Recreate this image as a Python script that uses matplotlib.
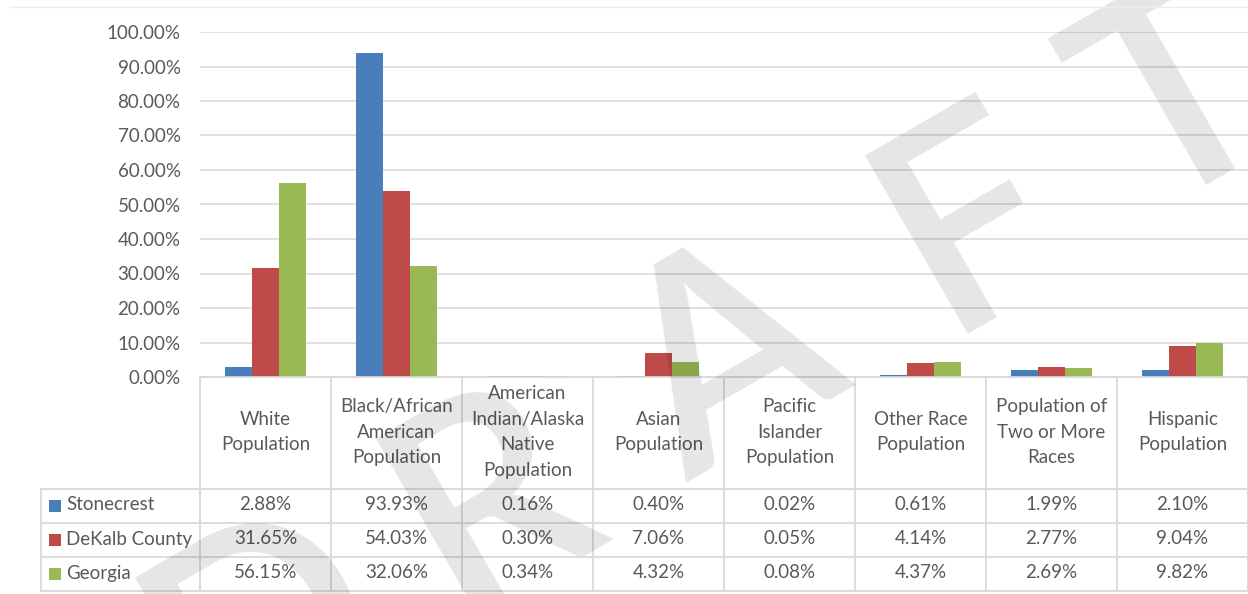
import matplotlib
matplotlib.use("Agg")
import matplotlib.pyplot as plt
import numpy as np
from matplotlib.ticker import PercentFormatter, MultipleLocator
from matplotlib.transforms import blended_transform_factory
from matplotlib.lines import Line2D
from matplotlib.patches import Rectangle

# ---- data -------------------------------------------------------------
categories = [
    "White\nPopulation",
    "Black/African\nAmerican\nPopulation",
    "American\nIndian/Alaska\nNative\nPopulation",
    "Asian\nPopulation",
    "Pacific\nIslander\nPopulation",
    "Other Race\nPopulation",
    "Population of\nTwo or More\nRaces",
    "Hispanic\nPopulation",
]
series_names = ["Stonecrest", "DeKalb County", "Georgia"]
stonecrest = [2.88, 93.93, 0.16, 0.40, 0.02, 0.61, 1.99, 2.10]
dekalb = [31.65, 54.03, 0.30, 7.06, 0.05, 4.14, 2.77, 9.04]
georgia = [56.15, 32.06, 0.34, 4.32, 0.08, 4.37, 2.69, 9.82]
series_colors = ["#4A7EBB", "#BE4B48", "#98B954"]
watermark_letters = ["D", "R", "A", "F", "T"]

# ---- figure -----------------------------------------------------------
W, H = 1248, 594
plt.rcParams["font.family"] = ["Lato", "DejaVu Sans"]
TEXT = "#595959"
GRID = "#D9D9D9"
FS = 13.5

fig = plt.figure(figsize=(W / 100, H / 100), dpi=100)
fig.patch.set_facecolor("white")

# chart area (pixel layout: x 200..1248, y 32..377 from top)
ax = fig.add_axes([200 / W, 1 - 377 / H, 1048 / W, 345 / H])
x = np.arange(len(categories))
bw = 0.205
all_series = [stonecrest, dekalb, georgia]
for k, vals in enumerate(all_series):
    ax.bar(x + (k - 1) * bw, np.array(vals) / 100.0, width=bw,
           color=series_colors[k], zorder=3, linewidth=0)

ax.set_xlim(-0.5, len(categories) - 0.5)
ax.set_ylim(0, 1.0)
ax.yaxis.set_major_locator(MultipleLocator(0.1))
ax.yaxis.set_major_formatter(PercentFormatter(1.0, decimals=2))
ax.grid(axis="y", color=GRID, linewidth=1.1, zorder=0)
ax.set_axisbelow(True)
for sp in ax.spines.values():
    sp.set_visible(False)
ax.set_xticks([])
ax.tick_params(axis="y", length=0, pad=14, labelsize=FS, labelcolor=TEXT)
ax.patch.set_visible(False)

# overlay in pixel coordinates for the data table and watermark
tab = fig.add_axes([0, 0, 1, 1])
tab.set_xlim(0, W)
tab.set_ylim(H, 0)
tab.axis("off")
tab.patch.set_visible(False)

bt = blended_transform_factory(ax.transData, tab.transData)

LW = 1.3
header_top, header_bot = 377, 489
row_edges = [489, 523, 557, 591]
label_left = 41

# horizontal table lines
tab.plot([-0.5, len(categories) - 0.5], [header_top, header_top],
         transform=bt, color=GRID, lw=LW, clip_on=False)
for ry in row_edges:
    tab.plot([label_left, W], [ry, ry], color=GRID, lw=LW, clip_on=False)

# vertical table lines
for i in range(len(categories) + 1):
    tab.plot([i - 0.5, i - 0.5], [header_top, row_edges[-1]],
             transform=bt, color=GRID, lw=LW, clip_on=False)
tab.plot([label_left, label_left], [row_edges[0], row_edges[-1]],
         color=GRID, lw=LW, clip_on=False)

# header labels
for i, cat in enumerate(categories):
    tab.text(i, (header_top + header_bot) / 2 - 1, cat, transform=bt,
             ha="center", va="center", multialignment="center",
             fontsize=FS, color=TEXT, linespacing=1.64)

# data rows
for r, (name, vals) in enumerate(zip(series_names, all_series)):
    yc = (row_edges[r] + row_edges[r + 1]) / 2
    tab.add_patch(Rectangle((49, yc - 6), 12, 12, color=series_colors[r],
                            linewidth=0))
    tab.text(66, yc - 1, name, ha="left", va="center", fontsize=FS, color=TEXT)
    for i, v in enumerate(vals):
        tab.text(i, yc - 1, f"{v:.2f}%", transform=bt, ha="center",
                 va="center", fontsize=FS, color=TEXT)

# faint chart border at the top
fig.add_artist(Line2D([10 / W, 1.0], [1 - 7 / H, 1 - 7 / H],
                      color="#EDEDED", lw=1.0))

# rotated DRAFT watermark, letters laid out along a 30-degree baseline
angle = np.deg2rad(30)
ux, uy = np.cos(angle), -np.sin(angle)
origin = (870, 377)
offsets = [-758, -480, -212, 85, 320]
for letter, s in zip(watermark_letters, offsets):
    px = origin[0] + ux * s
    py = origin[1] + uy * s
    tab.text(px, py, letter, rotation=30, rotation_mode="anchor",
             ha="left", va="baseline", fontsize=205, fontweight="semibold",
             color="black", alpha=0.1, zorder=10, clip_on=False)

fig.savefig("out.png", dpi=100, facecolor="white")
